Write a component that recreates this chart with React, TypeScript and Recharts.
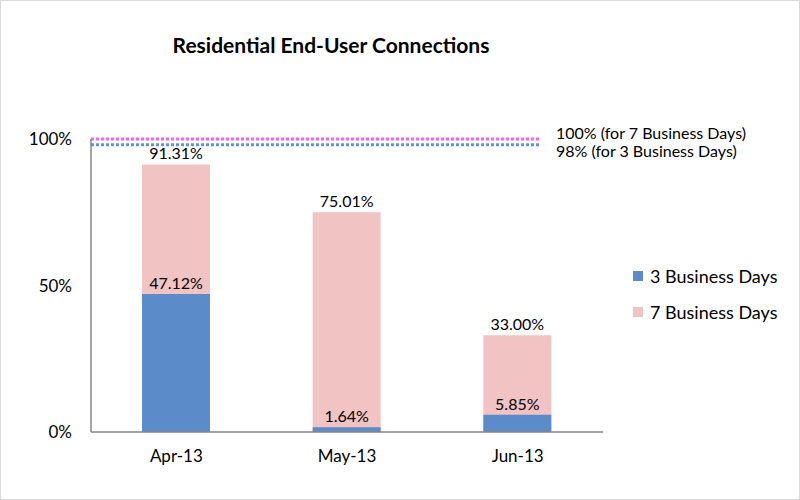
import React from 'react';
import { BarChart, Bar, XAxis, YAxis, ReferenceLine, LabelList } from 'recharts';

// values (percent)
const months = ['Apr-13', 'May-13', 'Jun-13'];
const threeDays = [47.12, 1.64, 5.85];
const sevenDays = [91.31, 75.01, 33.0];
const yTicks = [0, 50, 100];
const targetValues = [100, 98];
const targetLabels = ['100% (for 7 Business Days)', '98% (for 3 Business Days)'];
const seriesNames = ['3 Business Days', '7 Business Days'];

const FONT = 'Lato, "Open Sans", sans-serif';
const BLUE = '#5B8BC8';
const PINK = '#F1C3C3';
const targetColors = ['#FF5CFF', '#5F95D6'];
const targetLabelDy = [-4, 8];

const data = months.map((m, i) => ({ month: m, three: threeDays[i], seven: sevenDays[i] }));

const pct = (v: any) => `${Number(v).toFixed(2)}%`;

// dotted target line that stops short of the plot's right edge, with its text to the right
const TargetLine = (props: any) => {
  const { x1, y1, x2, color, text, dy } = props;
  return (
    <g>
      <line x1={x1} y1={y1} x2={x2 - 64} y2={y1} stroke={color} strokeWidth={3} strokeDasharray="3 2" />
      <text x={x2 - 47} y={y1 + dy} fontSize={16} fill="#000" fontFamily={FONT} dominantBaseline="middle">
        {text}
      </text>
    </g>
  );
};

const LegendBox = () => (
  <div style={{ position: 'absolute', left: 633, top: 258, fontFamily: FONT, fontSize: 18, color: '#000' }}>
    {seriesNames.map((name, i) => (
      <div key={name} style={{ display: 'flex', alignItems: 'center', height: 36 }}>
        <span style={{ width: 10, height: 10, background: i === 0 ? BLUE : PINK, marginRight: 7 }} />
        {name}
      </div>
    ))}
  </div>
);

export default function App() {
  return (
    <div style={{ position: 'relative', width: 800, height: 500, background: '#fff' }}>
      <style>{'body{margin:0}'}</style>
      <div
        style={{
          position: 'absolute', inset: 0, border: '1px solid #D9D9D9', boxSizing: 'border-box', pointerEvents: 'none',
        }}
      />
      <div
        style={{
          position: 'absolute', left: 0, top: 32, width: 662, textAlign: 'center',
          fontFamily: FONT, fontWeight: 700, fontSize: 21, color: '#000',
        }}
      >
        Residential End-User Connections
      </div>
      <div style={{ position: 'absolute', left: 0, top: 0 }}>
        <BarChart
          width={800}
          height={500}
          data={data}
          margin={{ top: 139, right: 197, bottom: 38, left: 0 }}
          barSize={68}
          barGap={-68}
        >
          <XAxis
            dataKey="month"
            height={30}
            axisLine={{ stroke: '#868686', strokeWidth: 1.5 }}
            tickLine={false}
            tickMargin={12}
            tick={{ fontSize: 17, fill: '#000', fontFamily: FONT }}
          />
          <YAxis
            width={91}
            domain={[0, 100]}
            ticks={yTicks}
            tickFormatter={(v: any) => `${v}%`}
            axisLine={{ stroke: '#868686', strokeWidth: 1.5 }}
            tickLine={false}
            tickMargin={13}
            tick={{ fontSize: 17, fill: '#000', fontFamily: FONT }}
          />
          <Bar dataKey="seven" name={seriesNames[1]} fill={PINK} isAnimationActive={false}>
            <LabelList dataKey="seven" position="top" formatter={pct} fontSize={16} fill="#000" fontFamily={FONT} />
          </Bar>
          <Bar dataKey="three" name={seriesNames[0]} fill={BLUE} isAnimationActive={false}>
            <LabelList dataKey="three" position="top" formatter={pct} fontSize={16} fill="#000" fontFamily={FONT} />
          </Bar>
          {targetValues.map((v, i) => (
            <ReferenceLine
              key={v}
              y={v}
              ifOverflow="visible"
              shape={(p: any) => (
                <TargetLine {...p} color={targetColors[i]} text={targetLabels[i]} dy={targetLabelDy[i]} />
              )}
            />
          ))}
        </BarChart>
      </div>
      <LegendBox />
    </div>
  );
}
